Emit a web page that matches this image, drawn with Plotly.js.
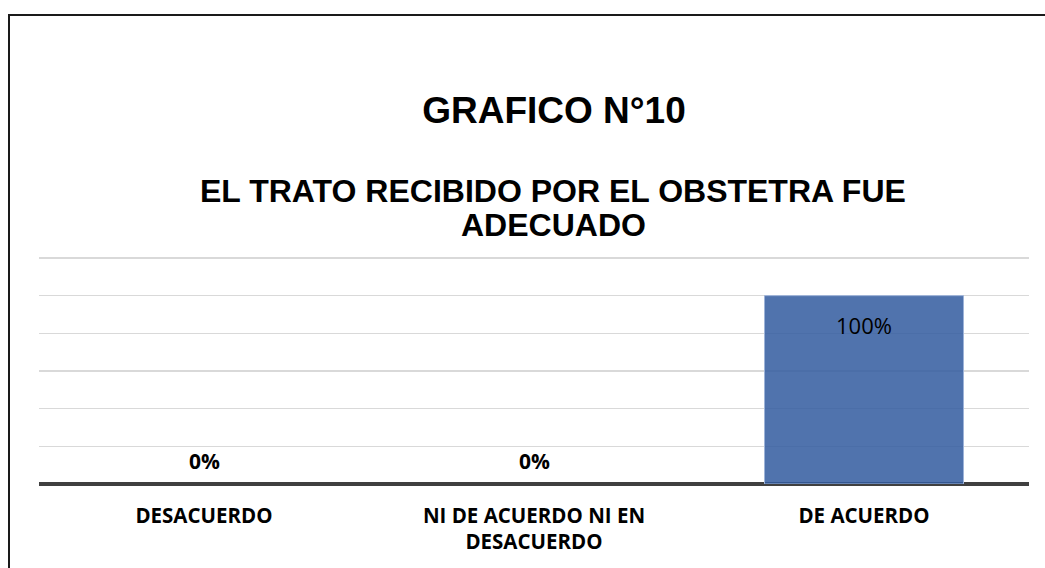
<!DOCTYPE html>
<html>
<head>
<meta charset="utf-8">
<script src="https://cdn.plot.ly/plotly-3.0.1.min.js"></script>
<style>html,body{margin:0;padding:0;background:#fff;}#chart{width:1045px;height:568px;}</style>
</head>
<body>
<div id="chart"></div>
<script>
const categories = ["DESACUERDO", "NI DE ACUERDO NI EN<br>DESACUERDO", "DE ACUERDO"];
const values = [0, 0, 100];
const valueLabels = ["0%", "0%", "100%"];
const titleText = "GRAFICO N°10";
const subtitleLines = ["EL TRATO RECIBIDO POR EL OBSTETRA FUE", "ADECUADO"];

const W = 1045, H = 568;
const plotL = 39, plotR = 1029, plotT = 245, plotB = 484.5;
const gridTop = 258;
const yMax = 120 * (plotB - plotT) / (plotB - gridTop);
const pw = plotR - plotL, ph = plotB - plotT;
const px = x => (x - plotL) / pw;
const py = y => (plotB - y) / ph;

const trace = {
  type: 'bar',
  x: categories,
  y: values,
  marker: {color: 'rgba(49,91,159,0.85)', line: {color: '#9DB3D8', width: values.map(v => v > 0 ? 1 : 0)}},
  hoverinfo: 'skip'
};

const annotations = [];
subtitleLines.forEach((t, i) => {
  annotations.push({
    xref: 'paper', yref: 'paper', x: px(553), y: py(i === 0 ? 190.5 : 224.5),
    xanchor: 'center', yanchor: 'middle', showarrow: false,
    text: t, font: {family: 'Liberation Sans, Arial, sans-serif', size: 32, color: '#000', weight: 700}
  });
});
values.forEach((v, i) => {
  if (v === 0) {
    annotations.push({x: categories[i], y: v, xref: 'x', yref: 'y', showarrow: false,
      yanchor: 'middle', yshift: 23, text: valueLabels[i],
      font: {family: 'Open Sans, sans-serif', size: 21, color: '#000', weight: 700}});
  } else {
    annotations.push({x: categories[i], y: v, xref: 'x', yref: 'y', showarrow: false,
      yanchor: 'middle', yshift: -29, text: valueLabels[i],
      font: {family: 'Open Sans, sans-serif', size: 22, color: '#000'}});
  }
});

const layout = {
  width: W, height: H,
  margin: {l: plotL, r: W - plotR, t: plotT, b: H - plotB, pad: 0},
  paper_bgcolor: '#fff', plot_bgcolor: '#fff',
  showlegend: false,
  bargap: 0.397,
  title: {
    text: titleText,
    font: {family: 'Liberation Sans, Arial, sans-serif', size: 37, color: '#000', weight: 700},
    x: 554 / W, xanchor: 'center', xref: 'container',
    y: 1 - 110 / H, yanchor: 'middle', yref: 'container'
  },
  xaxis: {
    type: 'category',
    showgrid: false, zeroline: false, showline: false,
    ticks: '', ticklen: 0,
    tickfont: {family: 'Open Sans, sans-serif', size: 20.5, color: '#000', weight: 700},
    ticklabelstandoff: 17,
    fixedrange: true
  },
  yaxis: {
    range: [0, yMax], dtick: 20, tick0: 0,
    showticklabels: false, ticks: '',
    showgrid: true, gridcolor: '#D9D9D9', gridwidth: 1.5,
    zeroline: true, zerolinecolor: '#404040', zerolinewidth: 4,
    showline: false, fixedrange: true
  },
  shapes: [{
    type: 'rect', xref: 'paper', yref: 'paper',
    x0: px(9), x1: px(1200), y0: py(700), y1: py(14.5),
    line: {color: '#1a1a1a', width: 2}, fillcolor: 'rgba(0,0,0,0)', layer: 'above'
  }],
  annotations: annotations
};

Plotly.newPlot('chart', [trace], layout, {displayModeBar: false, staticPlot: true});
</script>
</body>
</html>
